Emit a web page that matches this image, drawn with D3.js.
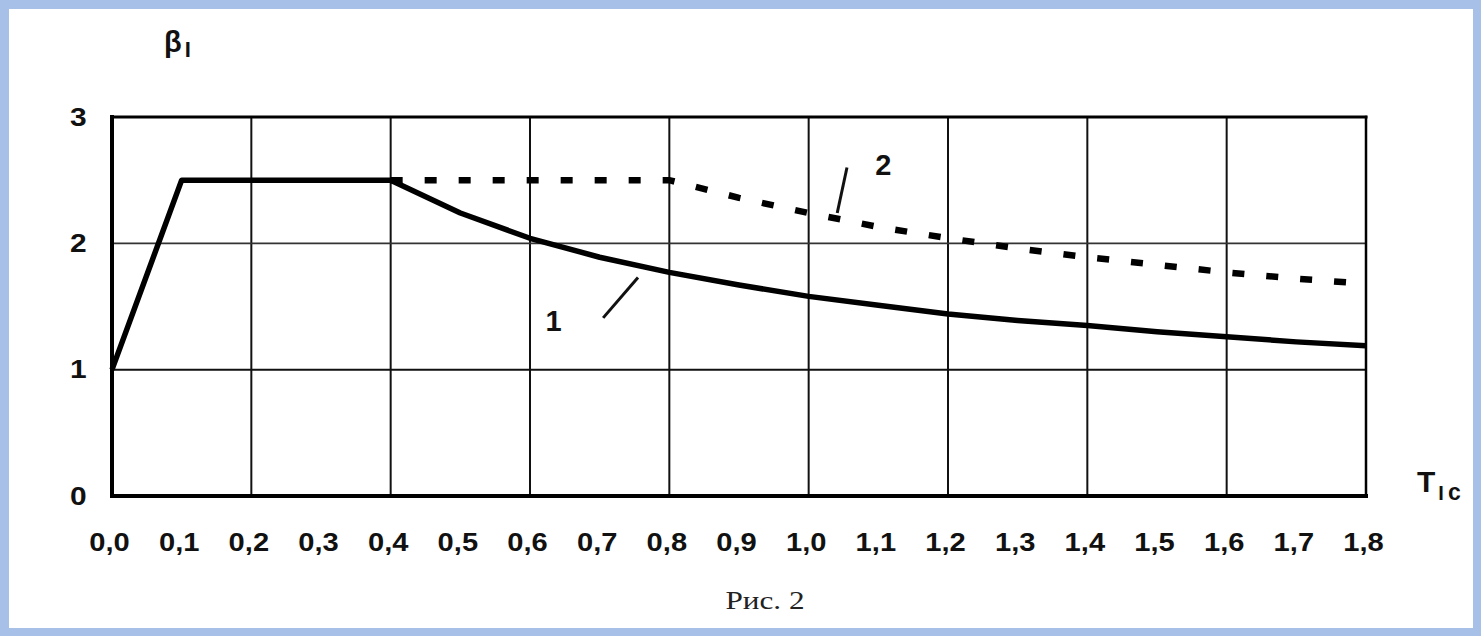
<!DOCTYPE html>
<html>
<head>
<meta charset="utf-8">
<script src="https://cdn.jsdelivr.net/npm/d3@7"></script>
<style>
    body { margin: 0; background: #a6c0e8; }
    svg { display: block; }
</style>
</head>
<body>
<svg id="chart" width="1481" height="636"></svg>
<script>
var width = 1481,
    height = 636;

// plot box in pixels
const plotLeft = 112, plotRight = 1366, plotTop = 117, plotBottom = 496;

// axis ticks
const xTicks = [0, 0.1, 0.2, 0.3, 0.4, 0.5, 0.6, 0.7, 0.8, 0.9, 1.0, 1.1, 1.2, 1.3, 1.4, 1.5, 1.6, 1.7, 1.8];
const xTickLabels = ["0,0", "0,1", "0,2", "0,3", "0,4", "0,5", "0,6", "0,7", "0,8", "0,9",
                     "1,0", "1,1", "1,2", "1,3", "1,4", "1,5", "1,6", "1,7", "1,8"];
const yTicks = [0, 1, 2, 3];
const gridX = [0.2, 0.4, 0.6, 0.8, 1.0, 1.2, 1.4, 1.6];
const gridY = [1, 2];

// curve 1 (solid)
const curve1T = [0, 0.1, 0.4, 0.5, 0.6, 0.7, 0.8, 0.9, 1.0, 1.1, 1.2, 1.3, 1.4, 1.5, 1.6, 1.7, 1.8];
const curve1B = [1.0, 2.5, 2.5, 2.24, 2.04, 1.89, 1.77, 1.67, 1.58, 1.51, 1.44, 1.39, 1.35, 1.30, 1.26, 1.22, 1.19];

// curve 2 (dotted)
const curve2T = [0.4, 0.8, 0.9, 1.0, 1.1, 1.2, 1.3, 1.4, 1.5, 1.6, 1.7, 1.8];
const curve2B = [2.5, 2.5, 2.36, 2.24, 2.13, 2.04, 1.96, 1.89, 1.83, 1.77, 1.72, 1.68];

// curve numbers and their leader strokes
const curveLabels = ["1", "2"];
const labelT = [0.634, 1.107];
const labelB = [1.31, 2.54];
const leaderT1 = [0.705, 1.041], leaderB1 = [1.41, 2.24];
const leaderT2 = [0.755, 1.055], leaderB2 = [1.73, 2.60];

var svg = d3.select("#chart");

// white sheet on blue frame
svg.append("rect")
    .attr("x", 9).attr("y", 9)
    .attr("width", width - 17).attr("height", height - 17)
    .attr("fill", "#ffffff");

var x = d3.scaleLinear().domain([0, 1.8]).range([plotLeft, plotRight]);
var y = d3.scaleLinear().domain([0, 3]).range([plotBottom, plotTop]);

// grid
svg.append("g").selectAll("line")
    .data(gridX)
    .join("line")
    .attr("x1", function (d) { return x(d); })
    .attr("x2", function (d) { return x(d); })
    .attr("y1", y(0))
    .attr("y2", y(3))
    .attr("stroke", "#111")
    .attr("stroke-width", 2);

svg.append("g").selectAll("line")
    .data(gridY)
    .join("line")
    .attr("x1", x(0))
    .attr("x2", x(1.8))
    .attr("y1", function (d) { return y(d); })
    .attr("y2", function (d) { return y(d); })
    .attr("stroke", function (d) { return d == 2 ? "#333" : "#111"; })
    .attr("stroke-width", function (d) { return d == 2 ? 1.7 : 2; });

// frame: left and bottom heavier
const frame = [
    { a: [0, 0], b: [0, 3], w: 4 },
    { a: [0, 0], b: [1.8, 0], w: 4 },
    { a: [0, 3], b: [1.8, 3], w: 3 },
    { a: [1.8, 0], b: [1.8, 3], w: 2.5 }
];
svg.append("g").selectAll("line")
    .data(frame)
    .join("line")
    .attr("x1", function (d) { return x(d.a[0]); })
    .attr("y1", function (d) { return y(d.a[1]); })
    .attr("x2", function (d) { return x(d.b[0]); })
    .attr("y2", function (d) { return y(d.b[1]); })
    .attr("stroke", "#000")
    .attr("stroke-width", function (d) { return d.w; })
    .attr("stroke-linecap", "square");

// curves
var line = d3.line()
    .x(function (d) { return x(d[0]); })
    .y(function (d) { return y(d[1]); });

svg.append("path")
    .datum(d3.zip(curve2T, curve2B))
    .attr("d", line)
    .attr("fill", "none")
    .attr("stroke", "#000")
    .attr("stroke-width", 6.5)
    .attr("stroke-dasharray", "12,22")
    .attr("stroke-dashoffset", 0);

svg.append("path")
    .datum(d3.zip(curve1T, curve1B))
    .attr("d", line)
    .attr("fill", "none")
    .attr("stroke", "#000")
    .attr("stroke-width", 5.5)
    .attr("stroke-linejoin", "round");

// axes (labels only)
var xAxis = d3.axisBottom(x)
    .tickValues(xTicks)
    .tickFormat(function (d, i) { return xTickLabels[i]; })
    .tickSize(0)
    .tickPadding(37);

var gx = svg.append("g")
    .attr("transform", "translate(0," + plotBottom + ")")
    .call(xAxis);
gx.select(".domain").remove();
gx.selectAll("text")
    .attr("font-family", "Arial, 'Liberation Sans', sans-serif")
    .attr("font-size", 26)
    .attr("font-weight", "bold")
    .attr("fill", "#111")
    .attr("transform", "translate(-3,0) scale(1.12,1)");

var yAxis = d3.axisLeft(y)
    .tickValues(yTicks)
    .tickFormat(d3.format("d"))
    .tickSize(0)
    .tickPadding(22);

var gy = svg.append("g")
    .attr("transform", "translate(" + plotLeft + ",0)")
    .call(yAxis);
gy.select(".domain").remove();
gy.selectAll("text")
    .attr("font-family", "Arial, 'Liberation Sans', sans-serif")
    .attr("font-size", 26)
    .attr("font-weight", "bold")
    .attr("fill", "#111")
    .attr("transform", "scale(1.15,1)");

// axis titles
var beta = svg.append("text")
    .attr("x", 164).attr("y", 52)
    .attr("font-family", "Arial, 'Liberation Sans', sans-serif")
    .attr("font-weight", "bold")
    .attr("font-size", 29)
    .attr("fill", "#111");
beta.append("tspan").text("β");
beta.append("tspan").attr("dx", 3).attr("dy", 5).attr("font-size", 22).text("I");

var tc = svg.append("text")
    .attr("x", 1417).attr("y", 492)
    .attr("font-family", "Arial, 'Liberation Sans', sans-serif")
    .attr("font-weight", "bold")
    .attr("font-size", 30)
    .attr("fill", "#111");
tc.append("tspan").text("T");
tc.append("tspan").attr("dx", 3).attr("dy", 8).attr("font-size", 20).text("I");
tc.append("tspan").attr("dx", 4).attr("font-size", 23).text("c");

// curve numbers
svg.append("g").selectAll("text")
    .data(curveLabels)
    .join("text")
    .attr("x", function (d, i) { return x(labelT[i]); })
    .attr("y", function (d, i) { return y(labelB[i]); })
    .attr("text-anchor", "middle")
    .attr("font-family", "Arial, 'Liberation Sans', sans-serif")
    .attr("font-weight", "bold")
    .attr("font-size", 29)
    .attr("fill", "#111")
    .text(function (d) { return d; });

svg.append("g").selectAll("line")
    .data(curveLabels)
    .join("line")
    .attr("x1", function (d, i) { return x(leaderT1[i]); })
    .attr("y1", function (d, i) { return y(leaderB1[i]); })
    .attr("x2", function (d, i) { return x(leaderT2[i]); })
    .attr("y2", function (d, i) { return y(leaderB2[i]); })
    .attr("stroke", "#111")
    .attr("stroke-width", 3);

// caption
svg.append("text")
    .attr("transform", "translate(765,609) scale(1.2,1)")
    .attr("text-anchor", "middle")
    .attr("font-family", "'Times New Roman', 'Liberation Serif', serif")
    .attr("font-size", 26)
    .attr("fill", "#222")
    .text("Рис. 2");
</script>
</body>
</html>
